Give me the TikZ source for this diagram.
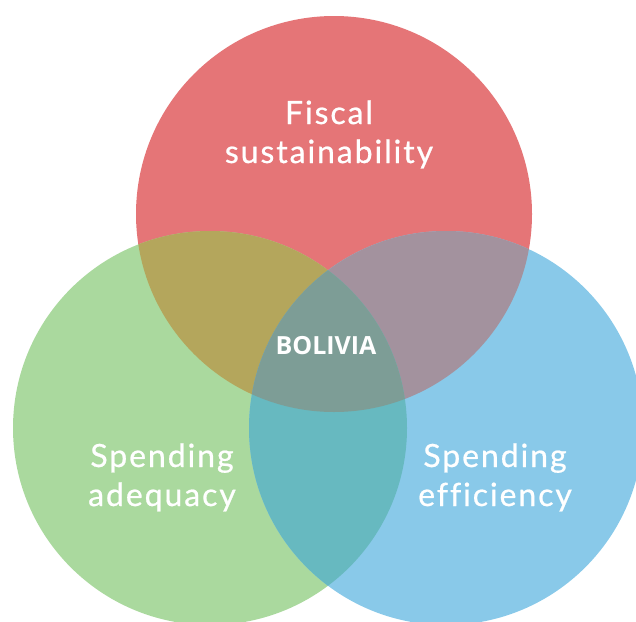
\documentclass[tikz,border=0pt]{standalone}
\usepackage{fontspec}
\newfontfamily\setfont[LetterSpace=6,FakeBold=0.7,Ligatures=CommonOff]{Lato}
\newfontfamily\hubfont{Open Sans}

\definecolor{fiscalred}{RGB}{229,117,119}
\definecolor{adequacygreen}{RGB}{170,217,158}
\definecolor{efficiencyblue}{RGB}{137,201,233}
\definecolor{redgreen}{RGB}{180,166,92}
\definecolor{redblue}{RGB}{163,146,158}
\definecolor{greenblue}{RGB}{103,185,192}
\definecolor{hubgrey}{RGB}{125,157,150}

\tikzset{
  setname/.style={text=white, align=center, inner sep=0pt,
    font=\setfont\fontsize{32}{39}\selectfont},
  hubname/.style={text=white, inner sep=0pt,
    font=\hubfont\bfseries\fontsize{25}{28}\selectfont}
}

\begin{document}
\begin{tikzpicture}[x=1pt,y=1pt,yscale=-1,xscale=1]
\useasboundingbox (0,0) rectangle (636,621);
\clip (0,0) rectangle (636,621);

% circle centres
\coordinate (fiscal) at (334,214);
\coordinate (adequacy) at (210,428);
\coordinate (efficiency) at (446,428);

% the three sets
\fill[fiscalred] (fiscal) circle [radius=198];
\fill[adequacygreen] (adequacy) circle [radius=197];
\fill[efficiencyblue] (efficiency) circle [radius=197];

% pairwise overlaps
\begin{scope}
  \clip (fiscal) circle [radius=198];
  \fill[redgreen] (adequacy) circle [radius=197];
  \fill[redblue] (efficiency) circle [radius=197];
\end{scope}
\begin{scope}
  \clip (adequacy) circle [radius=197];
  \fill[greenblue] (efficiency) circle [radius=197];
  % centre of all three
  \clip (efficiency) circle [radius=197];
  \fill[hubgrey] (fiscal) circle [radius=198];
\end{scope}

% Text Node
\node[setname, anchor=base] (fiscalname) at (329,163) {Fiscal\\sustainability};
% Text Node
\node[setname, anchor=base] (adequacyname) at (162,506) {Spending\\adequacy};
% Text Node
\node[setname, anchor=base] (efficiencyname) at (495,506) {Spending\\efficiency};
% Text Node
\node[hubname, anchor=base] (bolivia) at (326,354) {BOLIVIA};

\end{tikzpicture}
\end{document}
